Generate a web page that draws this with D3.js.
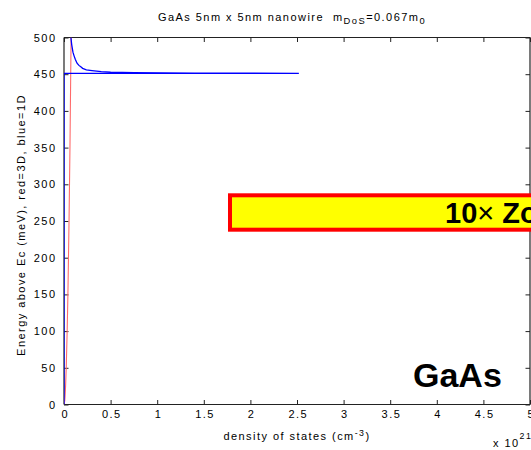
<!DOCTYPE html>
<html><head><meta charset="utf-8">
<script src="https://cdn.jsdelivr.net/npm/d3@7"></script>
<style>
html,body{margin:0;padding:0;background:#fff;overflow:hidden;}
svg{display:block;font-family:"Liberation Sans",Arial,sans-serif;}
</style></head>
<body>
<svg id="c" width="531" height="450"></svg>
<script>
// ---- data ----
const xTicks = [0,0.5,1,1.5,2,2.5,3,3.5,4,4.5,5];
const xTickLabels = ["0","0.5","1","1.5","2","2.5","3","3.5","4","4.5","5"];
const yTicks = [0,50,100,150,200,250,300,350,400,450,500];
const yTickLabels = ["0","50","100","150","200","250","300","350","400","450","500"];
// red = 3D DOS (units of 1e21)
const red3D_E = [0,5,10,25,50,100,150,200,250,300,350,400,450,500];
const red3D_D = [0,0.008,0.011,0.017,0.024,0.034,0.042,0.048,0.054,0.059,0.064,0.068,0.072,0.076];
// blue = 1D DOS (units of 1e21)
const blue1D_E = [0,451,451.2,451.6,452.2,452.8,453.5,455,456,458,460,462,465,470,475,480,490,500];
const blue1D_D = [0,0,2.52,1.40,0.75,0.50,0.40,0.30,0.24,0.20,0.18,0.16,0.14,0.122,0.108,0.096,0.083,0.074];

const svg = d3.select("#c");
const L = 64, R = 530, T = 37.5, B = 404.5;
const x = d3.scaleLinear().domain([0,5]).range([L,R]);
const y = d3.scaleLinear().domain([0,500]).range([B,T]);
const fs = 11, ls = 1.45;

svg.append("clipPath").attr("id","pc").append("rect").attr("x",L).attr("y",T).attr("width",R-L).attr("height",B-T);

const tk = 4.5;
const gB = svg.append("g").attr("transform",`translate(0,${B})`)
  .call(d3.axisBottom(x).tickValues(xTicks).tickSize(-tk).tickPadding(5.5).tickFormat((d,i)=>xTickLabels[i]));
const gT = svg.append("g").attr("transform",`translate(0,${T})`)
  .call(d3.axisTop(x).tickValues(xTicks).tickSize(-tk).tickFormat(""));
const gL = svg.append("g").attr("transform",`translate(${L},0)`)
  .call(d3.axisLeft(y).tickValues(yTicks).tickSize(-tk).tickPadding(7.5).tickFormat((d,i)=>yTickLabels[i]));
const gR = svg.append("g").attr("transform",`translate(${R},0)`)
  .call(d3.axisRight(y).tickValues(yTicks).tickSize(-tk).tickFormat(""));
[gB,gT,gL,gR].forEach(g=>{
  g.select(".domain").attr("stroke","#222").attr("stroke-width",1.2);
  g.selectAll(".tick line").attr("stroke","#222");
  g.selectAll(".tick text").attr("font-size",fs).attr("fill","#000")
    .attr("letter-spacing",ls).attr("font-family","Liberation Sans, Arial, sans-serif");
});
gB.selectAll(".tick text").attr("dx",ls/2);
gB.selectAll(".domain").attr("d",`M${L},0H${R}`);
gT.selectAll(".domain").attr("d",`M${L},0H${R}`);
gL.selectAll(".domain").attr("d",`M0,${T}V${B}`);
gR.selectAll(".domain").attr("d",`M0,${T}V${B}`);

const plot = svg.append("g").attr("clip-path","url(#pc)");
const line = d3.line().x(d=>x(d[0])).y(d=>y(d[1]));
plot.append("path").datum(red3D_D.map((d,i)=>[d,red3D_E[i]]))
  .attr("d",line).attr("fill","none").attr("stroke","#ff6a6a").attr("stroke-width",1.1);
plot.append("path").datum(blue1D_D.map((d,i)=>[d,blue1D_E[i]]))
  .attr("d",line).attr("fill","none").attr("stroke","#0000ff").attr("stroke-width",1.3);

// title
const title = svg.append("text").attr("x",292).attr("y",20.5).attr("text-anchor","middle")
  .attr("font-size",fs).attr("letter-spacing",ls);
title.append("tspan").text("GaAs 5nm x 5nm nanowire \u00a0m");
title.append("tspan").attr("dy",3.5).attr("font-size",fs*0.85).text("DoS");
title.append("tspan").attr("dy",-3.5).text("=0.067m");
title.append("tspan").attr("dy",3.5).attr("font-size",fs*0.85).text("0");

// y label
svg.append("text").attr("transform",`translate(25,${(T+B)/2+4}) rotate(-90)`)
  .attr("text-anchor","middle").attr("font-size",fs).attr("letter-spacing",ls)
  .text("Energy above Ec (meV), red=3D, blue=1D");

// x label
const xl = svg.append("text").attr("x",297).attr("y",440).attr("text-anchor","middle")
  .attr("font-size",fs).attr("letter-spacing",ls);
xl.append("tspan").text("density of states (cm");
xl.append("tspan").attr("dy",-4.5).attr("font-size",fs*0.8).text("-3");
xl.append("tspan").attr("dy",4.5).text(")");

// exponent
const ex = svg.append("text").attr("x",493).attr("y",446.5).attr("font-size",fs).attr("letter-spacing",ls);
ex.append("tspan").text("x 10");
ex.append("tspan").attr("dy",-7.5).attr("font-size",fs*0.8).text("21");

// zoom box
svg.append("rect").attr("x",230).attr("y",195.3).attr("width",340).attr("height",34.4)
  .attr("fill","#ffff00").attr("stroke","#ff0000").attr("stroke-width",4);
const zt = svg.append("text").attr("x",445).attr("y",223.3).attr("font-size",29).attr("font-weight","bold");
zt.append("tspan").text("10");
zt.append("tspan").attr("font-weight","normal").text("\u00d7 ");
zt.append("tspan").text("Zoom");

// GaAs label
svg.append("text").attr("x",413).attr("y",386.7).attr("font-size",34).attr("font-weight","bold").text("GaAs");
</script>
</body></html>
